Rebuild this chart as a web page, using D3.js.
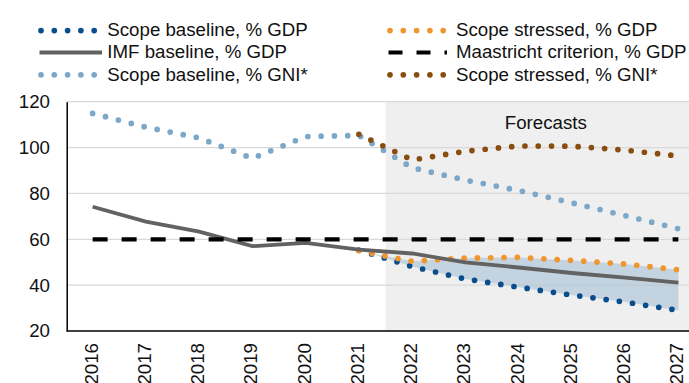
<!DOCTYPE html>
<html>
<head>
<meta charset="utf-8">
<script src="https://cdn.jsdelivr.net/npm/d3@7"></script>
<style>
  body { margin: 0; background: #fff; }
  svg { display: block; font-family: "Liberation Sans", Arial, sans-serif; }
</style>
</head>
<body>
<svg width="689" height="383"></svg>
<script>
'use strict';

const years = [2016, 2017, 2018, 2019, 2020, 2021, 2022, 2023, 2024, 2025, 2026, 2027]
const yTicks = [20, 40, 60, 80, 100, 120]
const forecastFrom = 2022

const imfBaseline = [74.2, 67.7, 63.3, 57.0, 58.4, 55.5, 53.8, 49.9, 47.7, 45.3, 43.3, 41.1]
const maastricht = [60, 60, 60, 60, 60, 60, 60, 60, 60, 60, 60, 60]
const scopeBaseGdp = [null, null, null, null, null, 55.3, 48.1, 42.7, 39.1, 35.7, 32.6, 29.0]
const scopeStressGdp = [null, null, null, null, null, 55.0, 50.4, 51.8, 52.1, 50.8, 49.2, 46.7]
const scopeBaseGni = [114.9, 108.9, 104.2, 95.3, 104.8, 105.3, 91.2, 85.8, 81.3, 75.9, 70.3, 64.6]
const scopeStressGni = [null, null, null, null, null, 105.8, 94.6, 98.4, 100.7, 100.6, 98.9, 96.3]

const svg = d3.select('svg')
const fontSize = '18.7px'

const x = d3.scalePoint().domain(years).range([66, 705]).padding(0.5)
const y = d3.scaleLinear().domain([20, 120]).range([331, 101.7])
const left = 66.7
const right = 706

// forecast box
svg.append('rect')
  .attr('x', x(forecastFrom) - x.step() / 2)
  .attr('y', y(120))
  .attr('width', right - (x(forecastFrom) - x.step() / 2))
  .attr('height', y(20) - y(120))
  .style('fill', '#efefef')

svg.append('text')
  .attr('x', (x(forecastFrom) - x.step() / 2 + right) / 2)
  .attr('y', 129)
  .attr('text-anchor', 'middle')
  .style('font-size', fontSize)
  .style('fill', '#111')
  .text('Forecasts')

// gridlines
svg.append('g').selectAll('line')
  .data(yTicks.slice(1))
  .enter()
  .append('line')
  .attr('x1', left)
  .attr('x2', right)
  .attr('y1', (d) => y(d))
  .attr('y2', (d) => y(d))
  .style('stroke', '#d9d9d9')
  .style('stroke-width', '1.3px')

// band between scope baseline and stressed (% GDP)
const band = years.map((yr, i) => ({ yr, lo: scopeBaseGdp[i], hi: scopeStressGdp[i] }))
svg.append('path')
  .datum(band.filter((d) => d.lo !== null))
  .attr('d', d3.area().x((d) => x(d.yr)).y0((d) => y(d.lo)).y1((d) => y(d.hi)))
  .style('fill', '#a9c2d6')
  .style('fill-opacity', 0.62)

const line = d3.line()
  .defined((d) => d.v !== null)
  .x((d) => x(d.yr))
  .y((d) => y(d.v))
const toPts = (vals) => years.map((yr, i) => ({ yr, v: vals[i] })).filter((d) => d.v !== null)

const dotted = (vals, color) => {
  svg.append('path')
    .datum(toPts(vals))
    .attr('d', line)
    .style('fill', 'none')
    .style('stroke', color)
    .style('stroke-width', 5.7)
    .style('stroke-linecap', 'round')
    .style('stroke-dasharray', '0 13.3')
}

dotted(scopeBaseGdp, '#0a4d8c')
dotted(scopeStressGdp, '#f0962e')

svg.append('path')
  .datum(toPts(imfBaseline))
  .attr('d', line)
  .style('fill', 'none')
  .style('stroke', '#626262')
  .style('stroke-width', 3.8)

svg.append('path')
  .datum(toPts(maastricht))
  .attr('d', line)
  .style('fill', 'none')
  .style('stroke', '#000')
  .style('stroke-width', 4.2)
  .style('stroke-dasharray', '15 14')

dotted(scopeBaseGni, '#7ba7c9')
dotted(scopeStressGni, '#8a4d10')

// axes
const yAxis = svg.append('g').attr('transform', `translate(${left},0)`)
  .call(d3.axisLeft(y).tickValues(yTicks).tickSize(0).tickPadding(16.7))
yAxis.select('.domain').style('stroke', '#000').style('stroke-width', 1.5)
yAxis.selectAll('text').style('font-size', fontSize).style('fill', '#111')
  .style('font-family', '"Liberation Sans", Arial, sans-serif')

svg.append('line')
  .attr('x1', left).attr('x2', right)
  .attr('y1', y(20)).attr('y2', y(20))
  .style('stroke', '#000')
  .style('stroke-width', 1.5)

svg.append('g').selectAll('text')
  .data(years)
  .enter()
  .append('text')
  .attr('transform', (d) => `translate(${x(d) - 1.6},343) rotate(-90)`)
  .attr('text-anchor', 'end')
  .attr('dy', '0.35em')
  .style('font-size', fontSize)
  .style('fill', '#111')
  .text((d) => d)

// legend
const legend = [
  { name: 'Scope baseline, % GDP', color: '#0a4d8c', kind: 'dot', col: 0, row: 0 },
  { name: 'IMF baseline, % GDP', color: '#626262', kind: 'solid', col: 0, row: 1 },
  { name: 'Scope baseline, % GNI*', color: '#7ba7c9', kind: 'dot', col: 0, row: 2 },
  { name: 'Scope stressed, % GDP', color: '#f0962e', kind: 'dot', col: 1, row: 0 },
  { name: 'Maastricht criterion, % GDP', color: '#000', kind: 'dash', col: 1, row: 1 },
  { name: 'Scope stressed, % GNI*', color: '#8a4d10', kind: 'dot', col: 1, row: 2 }
]
const colX = [41, 390]
const textX = [107.3, 456]
const rowY = [30.6, 52.4, 74.8]

const lg = svg.append('g').selectAll('g')
  .data(legend)
  .enter()
  .append('g')

lg.append('line')
  .attr('x1', (d) => d.kind === 'dot' ? colX[d.col] : colX[d.col] - 1.5)
  .attr('x2', (d) => d.kind === 'dot' ? colX[d.col] + 53.5 : colX[d.col] + (d.kind === 'dash' ? 57 : 61))
  .attr('y1', (d) => rowY[d.row])
  .attr('y2', (d) => rowY[d.row])
  .style('stroke', (d) => d.color)
  .style('stroke-width', (d) => d.kind === 'dot' ? 5.7 : 4)
  .style('stroke-linecap', (d) => d.kind === 'dot' ? 'round' : 'butt')
  .style('stroke-dasharray', (d) => d.kind === 'dot' ? '0 13.3' : (d.kind === 'dash' ? '14 14' : null))

lg.append('text')
  .attr('x', (d) => textX[d.col])
  .attr('y', (d) => rowY[d.row] + 5.8)
  .style('font-size', fontSize)
  .style('fill', '#111')
  .text((d) => d.name)
</script>
</body>
</html>
